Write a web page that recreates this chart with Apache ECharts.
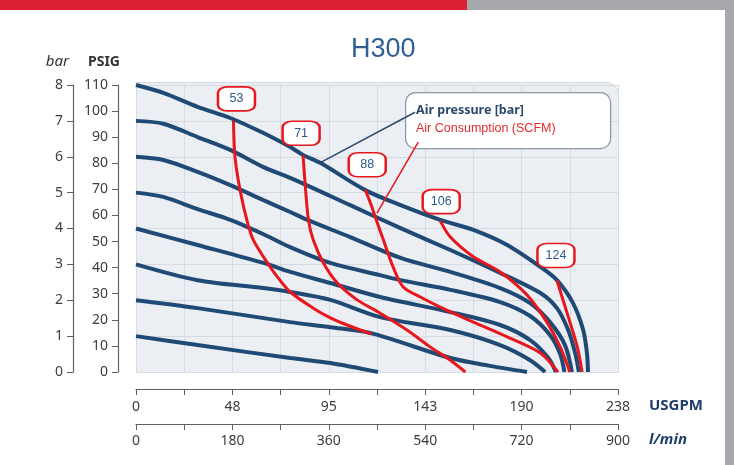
<!DOCTYPE html>
<html><head><meta charset="utf-8">
<script src="https://cdn.jsdelivr.net/npm/echarts/dist/echarts.min.js"></script>
<style>html,body{margin:0;padding:0;background:#fff}#chart{width:734px;height:465px}</style>
</head><body><div id="chart"></div>
<script>
// ---- data (x = l/min, y = bar) ----
const usgpmTicks = ['0', '48', '95', '143', '190', '238'];
const lminTicks = ['0', '180', '360', '540', '720', '900'];

const curve8bar = [[0,8.0],[51,7.78],[115,7.39],[176,7.08],[238,6.66],[288,6.27],[312,6.05],[344,5.83],[428,5.07],[494,4.65],[568,4.24],[630,3.96],[693,3.54],[755,2.93],[786,2.56],[816,1.92],[835,1.17],[842,0.53],[844,0]];
const curve7bar = [[0,7.0],[51,6.92],[115,6.55],[176,6.19],[238,5.71],[288,5.41],[400,4.65],[494,4.01],[587,3.40],[680,2.76],[755,2.20],[786,1.78],[807,1.17],[820,0.53],[827,0]];
const curve6bar = [[0,6.0],[51,5.91],[115,5.58],[176,5.21],[238,4.79],[288,4.46],[320,4.24],[400,3.76],[494,3.18],[587,2.79],[680,2.34],[736,1.92],[773,1.39],[801,0.75],[814,0]];
const curve5bar = [[0,5.0],[51,4.88],[115,4.54],[176,4.24],[238,3.84],[288,3.48],[363,3.04],[456,2.70],[494,2.56],[587,2.29],[680,1.95],[736,1.56],[773,1.03],[792,0.5],[800,0]];
const curve4bar = [[0,4.0],[115,3.54],[238,3.04],[288,2.79],[363,2.48],[456,2.09],[587,1.67],[680,1.31],[736,0.89],[770,0.39],[784,0]];
const curve3bar = [[0,3.0],[115,2.56],[238,2.34],[288,2.23],[363,2.01],[456,1.53],[587,1.17],[680,0.75],[736,0.33],[764,0]];
const curve2bar = [[0,2.0],[115,1.78],[288,1.39],[363,1.25],[437,1.09],[587,0.39],[661,0.17],[730,0]];
const curve1bar = [[0,1.0],[115,0.75],[288,0.39],[363,0.25],[452,0]];

const scfm53 = [[182,7.0],[185,5.97],[195,5.02],[208,4.18],[219,3.68],[238,3.21],[264,2.65],[288,2.23],[331,1.78],[363,1.51],[394,1.31],[439,1.06]];
const scfm71 = [[312,6.04],[316,5.21],[322,4.24],[331,3.68],[350,3.04],[376,2.48],[413,2.01],[456,1.64],[506,1.17],[549,0.70],[587,0.33],[615,0]];
const scfm88 = [[428,5.08],[439,4.66],[450,4.18],[462,3.68],[480,2.93],[499,2.37],[531,2.09],[568,1.81],[630,1.39],[693,0.98],[755,0.53],[788,0]];
const scfm106 = [[568,4.22],[587,3.76],[630,3.21],[680,2.79],[730,2.15],[768,1.37],[792,0.70],[810,0]];
const scfm124 = [[786,2.55],[805,1.64],[824,0.70],[833,0]];

const pressureNames = ['8 bar', '7 bar', '6 bar', '5 bar', '4 bar', '3 bar', '2 bar', '1 bar'];
const consumptionNames = ['53', '71', '88', '106', '124'];
const pressureLeader = [[346, 5.85], [521, 7.24]];
const consumptionLeader = [[450, 4.43], [527, 6.41]];

// ---- styles ----
const BLUE = '#1f4a75', RED = '#e8161d';
const labelOffsets = [[3,-22],[-2,-22],[2,-25],[1,-19],[-1,-25]];
const AXIS = '#5b6168', TXT = '#3d3d3d';
const FONT = 'Noto Sans';

const pressureCurves = [curve8bar, curve7bar, curve6bar, curve5bar, curve4bar, curve3bar, curve2bar, curve1bar];
const consumptionCurves = [scfm53, scfm71, scfm88, scfm106, scfm124];

const series = [];
pressureCurves.forEach((d, i) => series.push({
  type: 'line', name: pressureNames[i], data: d, smooth: 0.3,
  symbol: 'none', lineStyle: { color: BLUE, width: 4 }, z: 3, silent: true
}));
consumptionCurves.forEach((d, i) => series.push({
  type: 'line', name: consumptionNames[i], data: d, smooth: 0.3,
  symbol: 'none', lineStyle: { color: RED, width: 3 }, z: 4, silent: true,
  markPoint: {
    symbol: 'roundRect', symbolSize: [37, 24], symbolOffset: labelOffsets[i],
    itemStyle: { color: '#fff', borderColor: RED, borderWidth: 2 },
    label: { show: true, position: 'inside', color: '#2c5a8a', fontSize: 12.5, fontFamily: 'Liberation Sans', formatter: consumptionNames[i] },
    data: [{ coord: d[0] }]
  }
}));
series.push({ type: 'line', data: pressureLeader, symbol: 'none', lineStyle: { color: '#2b4a6b', width: 1.5 }, z: 6, silent: true });
series.push({ type: 'line', data: consumptionLeader, symbol: 'none', lineStyle: { color: RED, width: 1.5 }, z: 6, silent: true });

function xLabel(ticks) {
  return v => (v % 180 === 0 ? ticks[v / 180] : '');
}

const chart = echarts.init(document.getElementById('chart'));
chart.setOption({
  animation: false,
  backgroundColor: '#fff',
  title: { text: 'H300', left: 346, top: 31,
    textStyle: { fontFamily: 'Liberation Sans', fontSize: 27, fontWeight: 'normal', color: '#2f5f93' } },
  grid: { left: 136, right: 116, top: 85, bottom: 93 },
  xAxis: [
    { type: 'value', min: 0, max: 900, interval: 90, position: 'bottom', offset: 17,
      name: 'USGPM', nameLocation: 'end', nameGap: 31,
      nameTextStyle: { fontFamily: FONT, fontSize: 15, fontWeight: 'bold', color: '#1e3d6b', align: 'left', verticalAlign: 'top', padding: [9, 0, 0, 0] },
      axisLine: { onZero: false, lineStyle: { color: AXIS, width: 1.2 } }, axisTick: { length: 6, lineStyle: { color: AXIS } },
      axisLabel: { formatter: xLabel(usgpmTicks), margin: 11, color: TXT, fontSize: 14, fontFamily: FONT },
      splitLine: { show: true, lineStyle: { color: '#d7dbe1', width: 1 } } },
    { type: 'value', min: 0, max: 900, interval: 90, position: 'bottom', offset: 52,
      name: 'l/min', nameLocation: 'end', nameGap: 31,
      nameTextStyle: { fontFamily: FONT, fontSize: 15, fontWeight: 'bold', fontStyle: 'italic', color: '#1e3d6b', align: 'left', verticalAlign: 'top', padding: [8, 0, 0, 0] },
      axisLine: { onZero: false, lineStyle: { color: AXIS, width: 1.2 } }, axisTick: { length: 6, lineStyle: { color: AXIS } },
      axisLabel: { formatter: xLabel(lminTicks), margin: 10, color: TXT, fontSize: 14, fontFamily: FONT },
      splitLine: { show: false } }
  ],
  yAxis: [
    { type: 'value', min: 0, max: 8, interval: 1, position: 'left', offset: 63,
      name: 'bar', nameLocation: 'end', nameGap: 23,
      nameTextStyle: { fontFamily: FONT, fontSize: 15, fontStyle: 'italic', color: '#333', align: 'right', verticalAlign: 'middle', padding: [0, 4, 0, 0] },
      axisLine: { show: true, onZero: false, lineStyle: { color: AXIS, width: 1.2 } }, axisTick: { show: true, length: 6, lineStyle: { color: AXIS } },
      axisLabel: { margin: 10, color: TXT, fontSize: 14, fontFamily: FONT },
      splitLine: { show: true, lineStyle: { color: '#d7dbe1', width: 1 } } },
    { type: 'value', min: 0, max: 110, interval: 10, position: 'left', offset: 18,
      name: 'PSIG', nameLocation: 'end', nameGap: 23,
      nameTextStyle: { fontFamily: FONT, fontSize: 14, fontWeight: 'bold', color: '#333', align: 'right', verticalAlign: 'middle', padding: [0, -2, 0, 0] },
      axisLine: { show: true, onZero: false, lineStyle: { color: AXIS, width: 1.2 } }, axisTick: { show: true, length: 6, lineStyle: { color: AXIS } },
      axisLabel: { margin: 10, color: TXT, fontSize: 14, fontFamily: FONT },
      splitLine: { show: false } }
  ],
  graphic: [
    { type: 'rect', left: 0, top: 0, shape: { width: 467, height: 10 }, style: { fill: '#dc1f33' }, z: 10 },
    { type: 'rect', left: 467, top: 0, shape: { width: 267, height: 10 }, style: { fill: '#a7a8ab' }, z: 10 },
    { type: 'rect', left: 725, top: 0, shape: { width: 9, height: 465 }, style: { fill: '#a7a8ab' }, z: 10 },
    { type: 'rect', left: 136, top: 82, shape: { width: 482, height: 290, r: [0, 12, 0, 0] }, style: { fill: '#ebeef2', stroke: '#d3d8de', lineWidth: 1 }, z: -1 },
    { type: 'rect', left: 405, top: 92, shape: { width: 205, height: 56, r: 10 }, style: { fill: '#ffffff', stroke: '#8b97a3', lineWidth: 1.2 }, z: 1 },
    { type: 'text', left: 416, top: 104, style: { text: 'Air pressure [bar]', fill: '#2b4a6b', font: 'bold 12.5px "Noto Sans"' }, z: 7 },
    { type: 'text', left: 416, top: 122, style: { text: 'Air Consumption (SCFM)', fill: '#e32b2b', font: '12.5px "Liberation Sans"' }, z: 7 }
  ],
  series: series
});
</script></body></html>
